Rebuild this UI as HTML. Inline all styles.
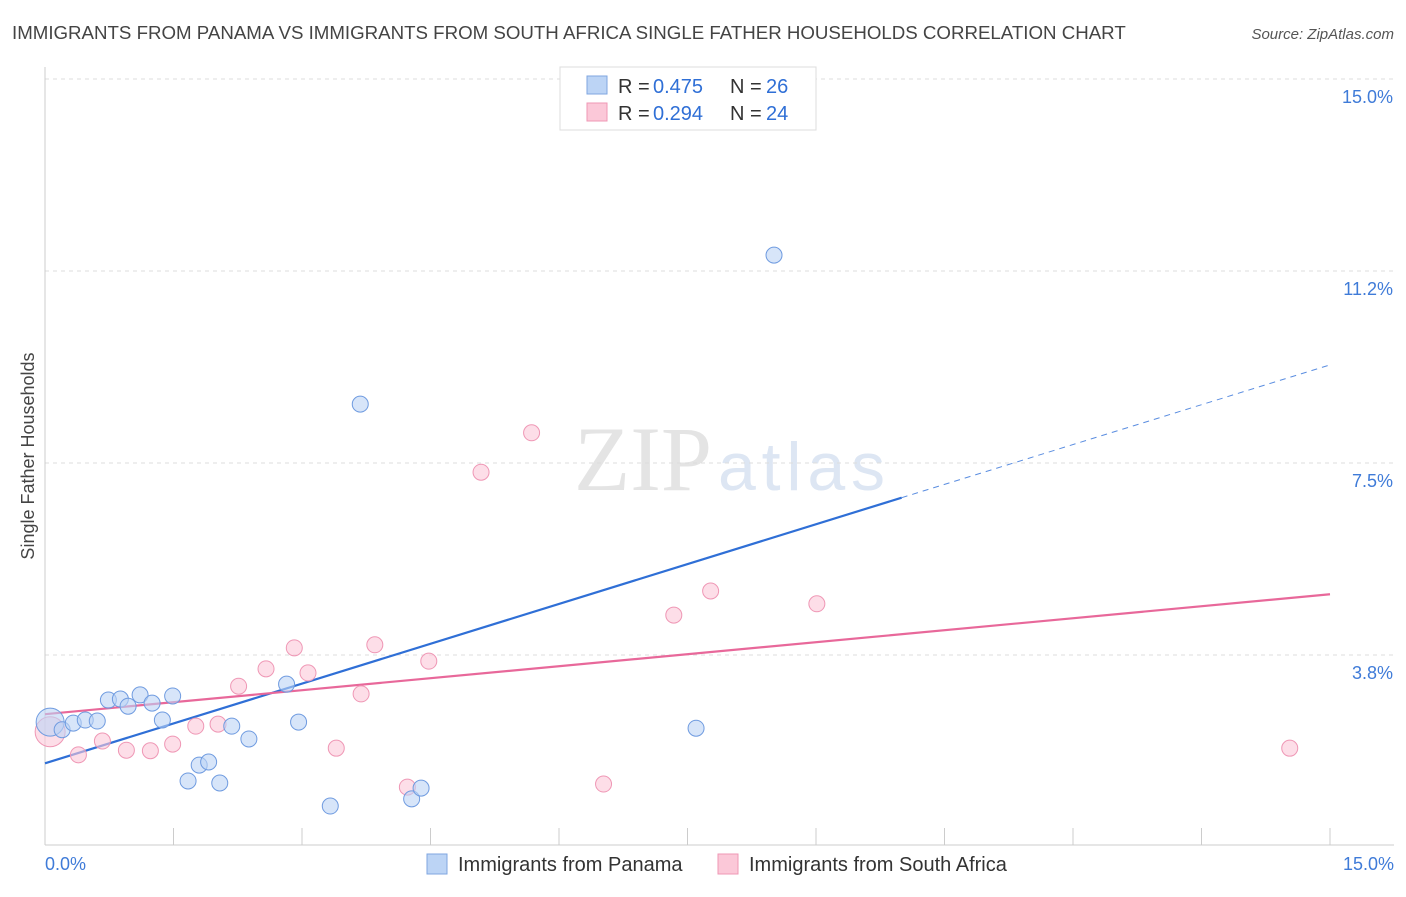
<!DOCTYPE html>
<html><head><meta charset="utf-8"><style>
body{margin:0;background:#fff;font-family:"Liberation Sans",sans-serif;}
svg text{font-family:"Liberation Sans",sans-serif;}
</style></head><body>
<svg id="c" width="1406" height="892" xmlns="http://www.w3.org/2000/svg">
<text x="12" y="39" font-size="18.7" fill="#444">IMMIGRANTS FROM PANAMA VS IMMIGRANTS FROM SOUTH AFRICA SINGLE FATHER HOUSEHOLDS CORRELATION CHART</text>
<text x="1394" y="39" font-size="15" fill="#555" font-style="italic" text-anchor="end">Source: ZipAtlas.com</text>
<text x="712" y="490" font-size="92" fill="#e4e4e4" text-anchor="end" style="font-family:'Liberation Serif',serif">ZIP</text>
<text x="718" y="490" font-size="68" fill="#dde6f3" textLength="167">atlas</text>
<g id="grid"></g>
<g id="axes"></g>
<g id="lines"></g>
<g id="pts"></g>
<text transform="translate(34,456) rotate(-90)" font-size="18" fill="#444" text-anchor="middle">Single Father Households</text>
<g>
<rect x="560" y="67" width="256" height="63" fill="#fff" stroke="#ddd"/>
<rect x="587" y="76" width="20" height="18" fill="#bcd4f5" stroke="#7fa6e0"/>
<rect x="587" y="103" width="20" height="18" fill="#fbc8d8" stroke="#ef97b5"/>
<g font-size="20">
<text x="618" y="93" fill="#333">R =</text><text x="653" y="93" fill="#2f6fd6">0.475</text>
<text x="730" y="93" fill="#333">N =</text><text x="766" y="93" fill="#2f6fd6">26</text>
</g>
<g font-size="20">
<text x="618" y="120" fill="#333">R =</text><text x="653" y="120" fill="#2f6fd6">0.294</text>
<text x="730" y="120" fill="#333">N =</text><text x="766" y="120" fill="#2f6fd6">24</text>
</g>
</g>
<g>
<rect x="427" y="854" width="20" height="20" fill="#bcd4f5" stroke="#7fa6e0"/>
<text x="458" y="871" font-size="20" fill="#333">Immigrants from Panama</text>
<rect x="718" y="854" width="20" height="20" fill="#fbc8d8" stroke="#ef97b5"/>
<text x="749" y="871" font-size="20" fill="#333">Immigrants from South Africa</text>
</g>
</svg>
<script>
const yTicks=[3.75,7.5,11.25,15];
const yTickLabels=["3.8%","7.5%","11.2%","15.0%"];
const xTickLabels=["0.0%","15.0%"];
const panamaX=[0.06,0.20,0.33,0.47,0.61,0.74,0.88,0.97,1.11,1.25,1.37,1.49,1.67,1.80,1.91,2.04,2.18,2.38,2.82,2.96,3.33,3.68,4.28,4.39,7.60,8.51];
const panamaY=[2.44,2.29,2.42,2.48,2.46,2.87,2.89,2.75,2.97,2.81,2.48,2.95,1.29,1.60,1.66,1.25,2.36,2.11,3.18,2.44,0.80,8.65,0.94,1.15,2.32,11.56];
const saX=[0.06,0.39,0.67,0.95,1.23,1.49,1.76,2.02,2.26,2.58,2.91,3.07,3.40,3.69,3.85,4.23,4.48,5.09,5.68,6.52,7.34,7.77,9.01,14.53];
const saY=[2.25,1.80,2.07,1.89,1.88,2.01,2.36,2.40,3.14,3.48,3.89,3.40,1.93,2.99,3.95,1.17,3.63,7.32,8.09,1.23,4.53,5.00,4.75,1.93];
const NS="http://www.w3.org/2000/svg";
const X=v=>45+v*(1285/15);
const Y=v=>847-v*(192/3.75);
function mk(tag,attrs,parent){const e=document.createElementNS(NS,tag);for(const k in attrs)e.setAttribute(k,attrs[k]);document.getElementById(parent).appendChild(e);return e;}
yTicks.forEach((t,i)=>{
  const g=mk('line',{x1:45,x2:1394,y1:Y(t),y2:Y(t),stroke:'#ddd','stroke-dasharray':'4,4'},'grid');
  
  
  const tx=mk('text',{x:1393,y:Y(t)+24,'font-size':18,fill:'#3f7bd8','text-anchor':'end'},'grid');
  tx.textContent=yTickLabels[i];
  
  
});
const ax=mk('line',{x1:45,x2:45,y1:67,y2:845,stroke:'#ccc'},'axes');


const bx=mk('line',{x1:45,x2:1394,y1:845,y2:845,stroke:'#ccc'},'axes');


for(let i=0;i<=10;i++){
  const t=mk('line',{x1:X(i*1.5),x2:X(i*1.5),y1:828,y2:845,stroke:'#ccc'},'axes');
  
  
}
[[0,'start',45],[15,'end',1394]].forEach((d,i)=>{
  const t=mk('text',{x:d[2],y:870,'font-size':18,fill:'#3f7bd8','text-anchor':d[1]},'axes');
  t.textContent=xTickLabels[i];
  
  
});
function fit(xs,ys){const n=xs.length;let mx=0,my=0;for(let i=0;i<n;i++){mx+=xs[i];my+=ys[i];}mx/=n;my/=n;let sxy=0,sxx=0;for(let i=0;i<n;i++){sxy+=(xs[i]-mx)*(ys[i]-my);sxx+=(xs[i]-mx)**2;}const b=sxy/sxx;return [my-b*mx,b];}
const fp=fit(panamaX,panamaY), fs=fit(saX,saY);
let l=mk('line',{x1:X(0),y1:Y(fp[0]),x2:X(10),y2:Y(fp[0]+fp[1]*10),stroke:'#2f6fd6','stroke-width':2.2},'lines');


l=mk('line',{x1:X(10),y1:Y(fp[0]+fp[1]*10),x2:X(15),y2:Y(fp[0]+fp[1]*15),stroke:'#5a8de0','stroke-width':1,'stroke-dasharray':'6,5'},'lines');


l=mk('line',{x1:X(0),y1:Y(fs[0]),x2:X(15),y2:Y(fs[0]+fs[1]*15),stroke:'#e8689a','stroke-width':2.2},'lines');


saX.forEach((x,i)=>{
  const c=mk('circle',{cx:X(x),cy:Y(saY[i]),r:i==0?15:8,fill:'#fbc8d8','fill-opacity':0.6,stroke:'#ef97b5','stroke-width':1},'pts');
  
  
});
panamaX.forEach((x,i)=>{
  const c=mk('circle',{cx:X(x),cy:Y(panamaY[i]),r:i==0?14:8,fill:'#bcd4f5','fill-opacity':0.6,stroke:'#6f9be0','stroke-width':1},'pts');
  
  
});
</script>
</body></html>
